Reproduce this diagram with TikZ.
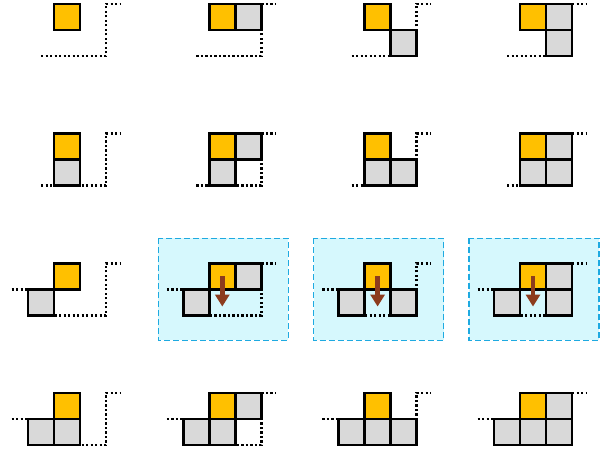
\documentclass[tikz,border=0pt]{standalone}
\usetikzlibrary{arrows.meta}
\definecolor{cyel}{RGB}{255,192,0}
\definecolor{cgry}{RGB}{217,217,217}
\definecolor{hfill}{RGB}{214,248,253}
\definecolor{hline}{RGB}{30,170,225}
\definecolor{abrown}{RGB}{140,60,30}
\tikzset{
 yel/.style={fill=cyel,draw=black,line width=2.4bp},
 gry/.style={fill=cgry,draw=black,line width=2.4bp},
 surf/.style={line width=2.4bp,dash pattern=on 2.3bp off 2.2bp},
 hl/.style={fill=hfill,draw=hline,line width=1.6bp,dash pattern=on 6bp off 3bp},
 fall/.style={draw=abrown,line width=4.5bp,-{Triangle[width=14bp,length=12bp,fill=abrown]}}
}
% #1 x, #2 y, #3 left ledge (0/1), #4 highlight (0/1), #5 cells
\newcommand\mypanel[5]{%
\begin{scope}[shift={(#1,#2)},x=26bp,y=-26bp]
 \ifnum#4=1 \draw[hl] (-1.96,-0.96) rectangle (3.04,2.96);\fi
 \draw[surf] (-0.5,2) -- (2,2) -- (2,0) -- (2.55,0);
 \ifnum#3=1 \draw[surf] (-1.63,1) -- (-1,1);\fi
 \foreach \a/\b/\s in {#5} {\draw[\s] (\a,\b) rectangle ++(1,1);}
 \ifnum#4=1 \draw[fall] (0.5,0.5) -- (0.5,1.66);\fi
\end{scope}}
\begin{document}
\begin{tikzpicture}[x=1bp,y=-1bp]
\useasboundingbox (0,0) rectangle (604,450);
% row 1
\mypanel{54}{4}{0}{0}{0/0/yel}
\mypanel{209.3}{4}{0}{0}{1/0/gry,0/0/yel}
\mypanel{364.6}{4}{0}{0}{1/1/gry,0/0/yel}
\mypanel{520}{4}{0}{0}{1/0/gry,1/1/gry,0/0/yel}
% row 2
\mypanel{54}{133.7}{0}{0}{0/1/gry,0/0/yel}
\mypanel{209.3}{133.7}{0}{0}{1/0/gry,0/1/gry,0/0/yel}
\mypanel{364.6}{133.7}{0}{0}{0/1/gry,1/1/gry,0/0/yel}
\mypanel{520}{133.7}{0}{0}{1/0/gry,0/1/gry,1/1/gry,0/0/yel}
% row 3
\mypanel{54}{263.4}{1}{0}{-1/1/gry,0/0/yel}
\mypanel{209.3}{263.4}{1}{1}{-1/1/gry,1/0/gry,0/0/yel}
\mypanel{364.6}{263.4}{1}{1}{-1/1/gry,1/1/gry,0/0/yel}
\mypanel{520}{263.4}{1}{1}{-1/1/gry,1/0/gry,1/1/gry,0/0/yel}
% row 4
\mypanel{54}{393.1}{1}{0}{-1/1/gry,0/1/gry,0/0/yel}
\mypanel{209.3}{393.1}{1}{0}{-1/1/gry,0/1/gry,1/0/gry,0/0/yel}
\mypanel{364.6}{393.1}{1}{0}{-1/1/gry,0/1/gry,1/1/gry,0/0/yel}
\mypanel{520}{393.1}{1}{0}{-1/1/gry,0/1/gry,1/0/gry,1/1/gry,0/0/yel}
\end{tikzpicture}
\end{document}
